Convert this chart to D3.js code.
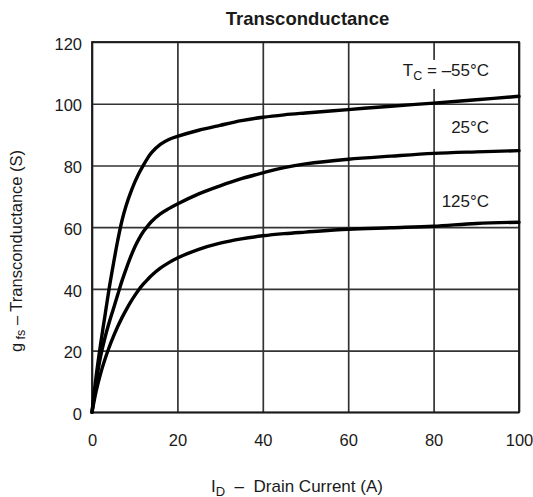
<!DOCTYPE html>
<html>
<head>
<meta charset="utf-8">
<script src="https://cdn.jsdelivr.net/npm/d3@7"></script>
<style>
  html, body { margin: 0; padding: 0; background: #fff; }
  svg { display: block; font-family: "Liberation Sans", Arial, Helvetica, sans-serif; }
</style>
</head>
<body>
<svg id="chart" width="533" height="497"></svg>
<script>
// ---- data ----
const drainCurrent = [0, 1, 2, 3, 4, 5, 6, 7, 8, 9, 10, 11, 12, 13, 14, 16, 18, 20, 25, 30, 35, 40, 45, 50, 60, 70, 80, 90, 100];
const gfsMinus55 = [0, 12, 22, 31, 40, 48, 55.5, 62, 67, 71, 74.5, 77.5, 80, 82.3, 84.2, 86.8, 88.4, 89.4, 91.4, 93, 94.5, 95.6, 96.4, 97, 98.1, 99.2, 100.2, 101.3, 102.4];
const gfs25      = [0, 10, 18, 24, 29, 33.5, 38, 42.5, 46.5, 50.2, 53.5, 56.2, 58.5, 60.3, 61.9, 64.3, 66, 67.5, 70.8, 73.4, 75.7, 77.6, 79.3, 80.5, 82, 83, 83.9, 84.4, 84.8];
const gfs125     = [0, 7, 12.5, 17, 21, 24.5, 27.7, 30.6, 33.2, 35.6, 37.8, 39.8, 41.5, 43, 44.4, 46.7, 48.5, 50, 52.8, 54.8, 56.2, 57.2, 57.9, 58.4, 59.3, 59.8, 60.3, 61.2, 61.6];
const xTicks = [0, 20, 40, 60, 80, 100];
const yTicks = [0, 20, 40, 60, 80, 100, 120];
const seriesLabels = ["= \u201355\u00B0C", "25\u00B0C", "125\u00B0C"];
const labelCurrentAnchor = [93, 93, 93];      // x (A) where labels end
const labelGfsAnchor = [109, 90.5, 66.6];     // gfs value of label baseline

// ---- layout ----
const svg = d3.select("#chart");
const plotL = 92, plotR = 519, plotT = 42, plotB = 412.3;
const x = d3.scaleLinear().domain([0, 100]).range([plotL, plotR]);
const y = d3.scaleLinear().domain([0, 120]).range([plotB, plotT]);
const ink = "#1a1a1a";

// gridlines
svg.append("g")
  .attr("transform", `translate(0,${plotB})`)
  .call(d3.axisBottom(x).tickValues(xTicks).tickSize(-(plotB - plotT)).tickFormat(""))
  .call(g => g.select(".domain").remove())
  .call(g => g.selectAll("line").attr("stroke", "#333").attr("stroke-width", 1.7));
svg.append("g")
  .attr("transform", `translate(${plotL},0)`)
  .call(d3.axisLeft(y).tickValues(yTicks).tickSize(-(plotR - plotL)).tickFormat(""))
  .call(g => g.select(".domain").remove())
  .call(g => g.selectAll("line").attr("stroke", "#333").attr("stroke-width", 1.6));

// tick labels
svg.append("g")
  .attr("transform", `translate(0,${plotB})`)
  .call(d3.axisBottom(x).tickValues(xTicks).tickSize(0).tickPadding(22).tickFormat(d3.format("d")))
  .call(g => g.select(".domain").remove())
  .call(g => g.selectAll("text").attr("font-size", "16.5px").attr("fill", ink).attr("font-family", "Liberation Sans, Arial, sans-serif"));
svg.append("g")
  .attr("transform", `translate(${plotL},0)`)
  .call(d3.axisLeft(y).tickValues(yTicks).tickSize(0).tickPadding(10).tickFormat(d3.format("d")))
  .call(g => g.select(".domain").remove())
  .call(g => g.selectAll("text").attr("font-size", "16.5px").attr("fill", ink).attr("dy", "0.44em").attr("font-family", "Liberation Sans, Arial, sans-serif"));

// series labels with white backing (gridline gap)
const labelG = svg.append("g");
const labels = labelG.selectAll("text").data(seriesLabels).join("text")
  .attr("x", (d, i) => x(labelCurrentAnchor[i]))
  .attr("y", (d, i) => y(labelGfsAnchor[i]))
  .attr("text-anchor", "end")
  .attr("font-size", "17px")
  .attr("fill", ink);
labels.each(function(d, i) {
  const t = d3.select(this);
  if (i === 0) {
    t.append("tspan").text("T");
    t.append("tspan").attr("font-size", "12.5px").attr("dy", "4").text("C");
    t.append("tspan").attr("dy", "-4").text(" " + d);
  } else {
    t.text(d);
  }
});
labels.each(function(d, i) {
  if (i === 1) return;
  const b = this.getBBox();
  labelG.insert("rect", "text")
    .attr("x", b.x - 1).attr("y", b.y - 1)
    .attr("width", b.width + 2).attr("height", b.height + 7)
    .attr("fill", "#fff");
});

// plot frame
svg.append("rect")
  .attr("x", plotL).attr("y", plotT)
  .attr("width", plotR - plotL).attr("height", plotB - plotT)
  .attr("fill", "none").attr("stroke", ink).attr("stroke-width", 1.8);

// curves
const line = d3.line()
  .x((d, i) => x(drainCurrent[i]))
  .y(d => y(d))
  .curve(d3.curveCatmullRom.alpha(0.5));
[gfsMinus55, gfs25, gfs125].forEach(s => {
  svg.append("path")
    .attr("d", line(s))
    .attr("fill", "none")
    .attr("stroke", "#000")
    .attr("stroke-width", 3.4)
    .attr("stroke-linejoin", "round")
    .attr("stroke-linecap", "round");
});

// title
svg.append("text")
  .attr("x", 307.5).attr("y", 25)
  .attr("text-anchor", "middle")
  .attr("font-size", "18.5px")
  .attr("font-weight", "bold")
  .attr("fill", ink)
  .text("Transconductance");

// x axis label
const xl = svg.append("text")
  .attr("x", 297).attr("y", 491.5)
  .attr("text-anchor", "middle")
  .attr("font-size", "17px")
  .attr("fill", ink);
xl.append("tspan").text("I");
xl.append("tspan").attr("font-size", "13px").attr("dy", "4").text("D");
xl.append("tspan").attr("dy", "-4").attr("xml:space", "preserve").text("  \u2013  Drain Current (A)");

// y axis label
const yl = svg.append("text")
  .attr("transform", "translate(22,251) rotate(-90)")
  .attr("text-anchor", "middle")
  .attr("font-size", "16.5px")
  .attr("fill", ink);
yl.append("tspan").text("g");
yl.append("tspan").attr("font-size", "12.5px").attr("dy", "3").text(" fs");
yl.append("tspan").attr("dy", "-3").text(" \u2013 Transconductance (S)");
</script>
</body>
</html>
